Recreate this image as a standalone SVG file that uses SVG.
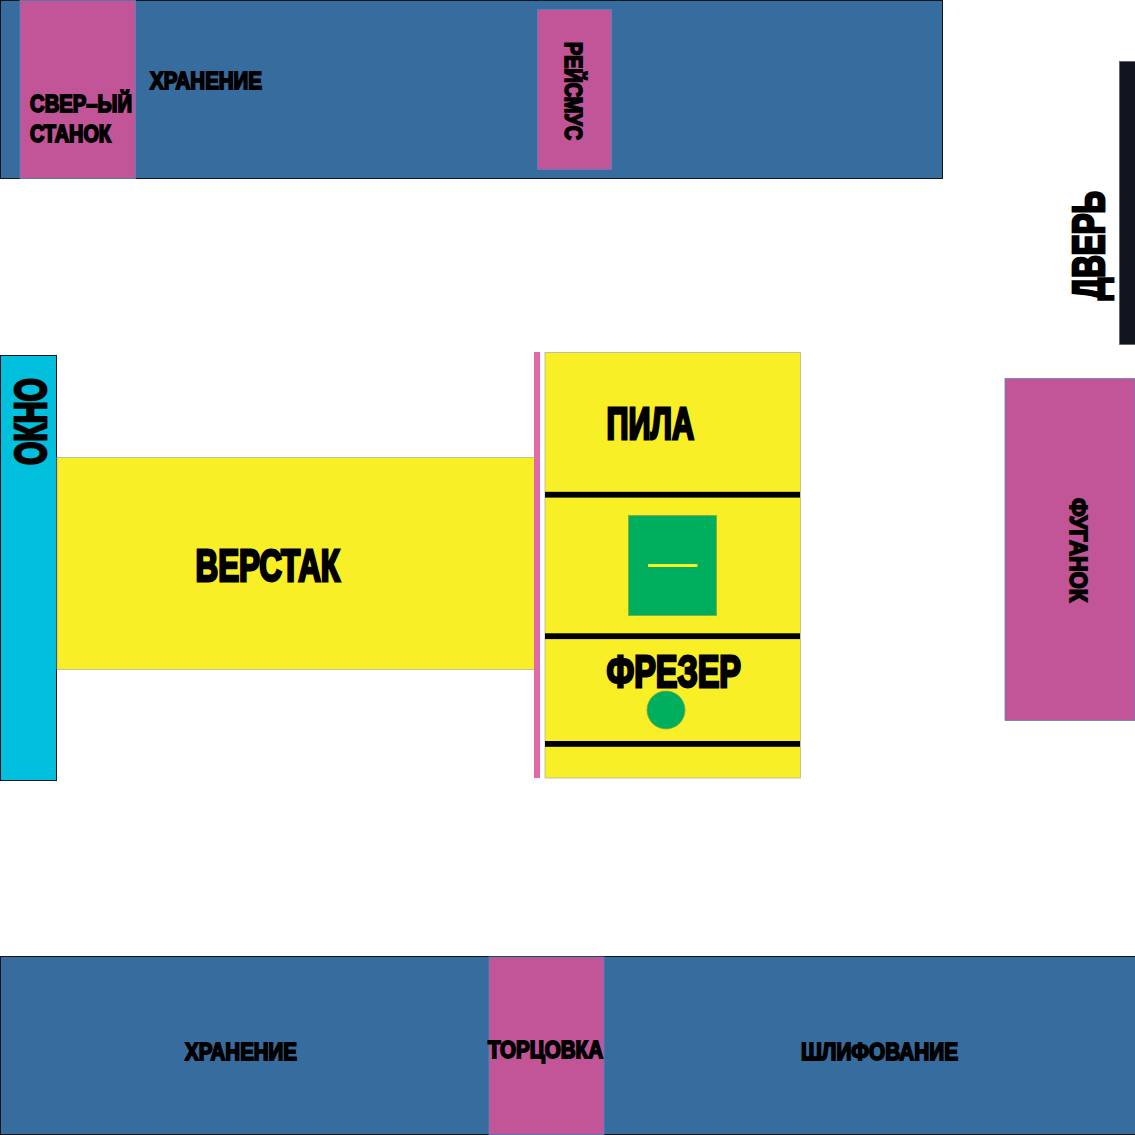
<svg xmlns="http://www.w3.org/2000/svg" width="1135" height="1135" viewBox="0 0 1135 1135">
<style>
.t{font-family:"Liberation Sans","DejaVu Sans",sans-serif;font-weight:700;fill:#000;stroke:#000;stroke-linejoin:miter}
.s{font-size:23.500px;stroke-width:1.800px}
.l{font-size:44px;stroke-width:2.800px}
.blue{fill:#376c9f;stroke:#11131f;stroke-width:1}
.mag{fill:#c25597;stroke:#5b86b8;stroke-width:.8}
.yel{fill:#f8ef27;stroke:#b5b5a0;stroke-width:.8}
.bar{fill:#000}
.grn{fill:#00af5d;stroke:#7fa83a;stroke-width:.8}
</style>
<g id="storage-top"><rect class="blue" x="0.500" y="0.500" width="942" height="178"/><text class="t s" x="150" y="89" textLength="112" lengthAdjust="spacingAndGlyphs">ХРАНЕНИЕ</text></g>
<g id="drill"><rect class="mag" x="20" y="0.500" width="115.500" height="178"/><text class="t s" x="30" y="112" textLength="102" lengthAdjust="spacingAndGlyphs">СВЕР–ЫЙ</text><text class="t s" x="30" y="142" textLength="81" lengthAdjust="spacingAndGlyphs">СТАНОК</text></g>
<g id="planer"><rect class="mag" x="537.500" y="9.500" width="74" height="160"/><text class="t s" transform="translate(565 42) rotate(90)" textLength="98" lengthAdjust="spacingAndGlyphs">РЕЙСМУС</text></g>
<g id="door"><rect x="1119.500" y="61.500" width="16" height="283" fill="#11131f" stroke="#555" stroke-width=".6"/><text class="t l" transform="translate(1103.500 300) rotate(-90)" textLength="109" lengthAdjust="spacingAndGlyphs">ДВЕРЬ</text></g>
<g id="window"><rect x="0.500" y="355.500" width="56" height="425" fill="#00c0de" stroke="#11131f"/><text class="t l" transform="translate(45.500 465) rotate(-90)" textLength="87" lengthAdjust="spacingAndGlyphs">ОКНО</text></g>
<g id="workbench"><rect class="yel" x="57" y="457.500" width="478" height="212"/><text class="t l" x="195.500" y="580.500" textLength="144.500" lengthAdjust="spacingAndGlyphs">ВЕРСТАК</text></g>
<g id="divider"><rect x="534" y="352" width="6" height="426" fill="#e26aa9"/></g>
<g id="saw-table"><rect class="yel" x="545" y="352.500" width="255.500" height="425.500"/>
<rect class="bar" x="545" y="491.800" width="255" height="5.800"/><rect class="bar" x="545" y="633.300" width="255" height="5.800"/><rect class="bar" x="545" y="741" width="255" height="5.800"/>
<text class="t l" x="606.500" y="438.500" textLength="87.500" lengthAdjust="spacingAndGlyphs">ПИЛА</text>
<rect class="grn" x="628.500" y="515.500" width="88" height="100"/><rect x="648" y="564" width="49.500" height="3" fill="#f8ef27"/>
<text class="t l" x="606.500" y="686.500" textLength="134.500" lengthAdjust="spacingAndGlyphs">ФРЕЗЕР</text>
<circle class="grn" cx="666" cy="710" r="19"/></g>
<g id="jointer"><rect class="mag" x="1005" y="378.500" width="130" height="342"/><text class="t s" transform="translate(1070 498) rotate(90)" textLength="104" lengthAdjust="spacingAndGlyphs">ФУГАНОК</text></g>
<g id="storage-bottom"><rect class="blue" x="0.500" y="956.500" width="1135" height="178"/><text class="t s" x="185" y="1060" textLength="112" lengthAdjust="spacingAndGlyphs">ХРАНЕНИЕ</text><text class="t s" x="801" y="1060" textLength="157" lengthAdjust="spacingAndGlyphs">ШЛИФОВАНИЕ</text></g>
<g id="miter"><rect class="mag" x="489" y="957" width="115" height="177.500"/><text class="t s" x="488" y="1058" textLength="115" lengthAdjust="spacingAndGlyphs">ТОРЦОВКА</text></g>
</svg>
